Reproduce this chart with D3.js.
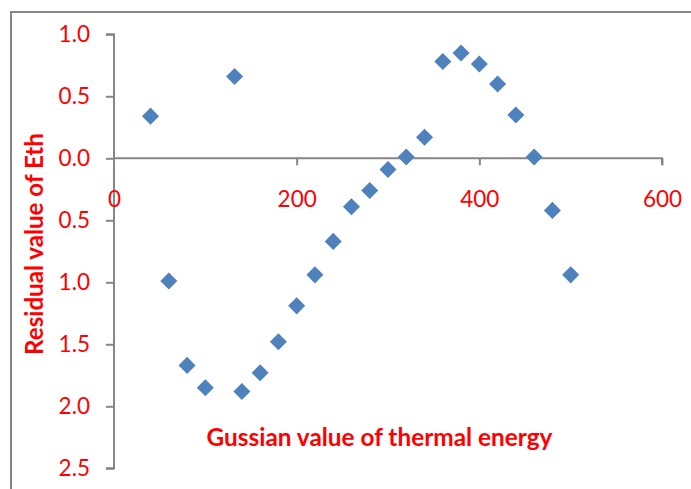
<!DOCTYPE html>
<html>
<head>
<meta charset="utf-8">
<script src="https://cdn.jsdelivr.net/npm/d3@7"></script>
<style>
  html, body { margin: 0; padding: 0; background: #fff; }
  svg { display: block; font-family: Lato, "Open Sans", sans-serif; }
</style>
</head>
<body>
<svg id="chart" width="691" height="489"></svg>
<script>
// ---- data ----
const energyValues = [40, 132, 60, 80, 100, 140, 160, 180, 200, 220, 240, 260, 280, 300, 320, 340, 360, 380, 400, 420, 440, 460, 480, 500];
const residualValues = [0.34, 0.66, -0.99, -1.67, -1.85, -1.88, -1.73, -1.48, -1.19, -0.94, -0.67, -0.39, -0.26, -0.09, 0.01, 0.17, 0.78, 0.85, 0.76, 0.60, 0.35, 0.01, -0.42, -0.94];
const xTickValues = [0, 200, 400, 600];
const yTickValues = [1.0, 0.5, 0.0, -0.5, -1.0, -1.5, -2.0, -2.5];
const xTitle = "Gussian value of thermal energy";
const yTitle = "Residual value of Eth";

const points = energyValues.map((x, i) => ({ x, y: residualValues[i] }));

// ---- layout ----
const W = 691, H = 489;
const plotLeft = 114, plotRight = 662;
const plotTop = 34.3, plotBottom = 468.3;
const axisColor = "#868686";
const red = "#FF0000";
const markerColor = "#4F81BD";

const svg = d3.select("#chart");

// outer chart border (only left and top are inside the picture)
svg.append("path")
  .attr("d", `M11,${H + 2} L11,12 L${W + 2},12`)
  .attr("fill", "none")
  .attr("stroke", axisColor)
  .attr("stroke-width", 2);

const x = d3.scaleLinear().domain([0, 600]).range([plotLeft, plotRight]);
const y = d3.scaleLinear().domain([-2.5, 1.0]).range([plotBottom, plotTop]);

// y axis
const yAxis = d3.axisLeft(y)
  .tickValues(yTickValues)
  .tickSize(8)
  .tickPadding(16)
  .tickFormat(d => d3.format(".1f")(Math.abs(d)));
const gy = svg.append("g").attr("transform", `translate(${plotLeft},0)`).call(yAxis);
gy.select(".domain").attr("stroke", axisColor).attr("stroke-width", 2)
  .attr("d", `M${-8},${plotTop}H0V${plotBottom}H${-8}`);
gy.selectAll(".tick line").attr("stroke", axisColor).attr("stroke-width", 2);
gy.selectAll(".tick text")
  .attr("fill", red)
  .style("font-size", "22.5px")
  .style("font-family", "Lato, 'Open Sans', sans-serif");

// x axis crossing at y = 0
const xAxis = d3.axisBottom(x)
  .tickValues(xTickValues)
  .tickSize(7)
  .tickPadding(26)
  .tickFormat(d3.format("d"));
const gx = svg.append("g").attr("transform", `translate(0,${y(0)})`).call(xAxis);
gx.select(".domain").attr("stroke", axisColor).attr("stroke-width", 2)
  .attr("d", `M${plotLeft},0H${plotRight}V7`);
gx.selectAll(".tick line").attr("stroke", axisColor).attr("stroke-width", 2)
  .filter(d => d === 0).remove();
gx.selectAll(".tick text")
  .attr("fill", red)
  .style("font-size", "22.5px")
  .style("font-family", "Lato, 'Open Sans', sans-serif");

// markers (diamonds)
const diamond = d3.symbol().type(d3.symbolDiamond2).size(185);
svg.append("g").selectAll("path")
  .data(points)
  .join("path")
  .attr("d", diamond)
  .attr("transform", d => `translate(${x(d.x)},${y(d.y)})`)
  .attr("fill", markerColor);

// axis titles
function fitText(sel, targetWidth, start) {
  sel.style("font-size", start + "px");
  const w = sel.node().getComputedTextLength();
  sel.style("font-size", (start * targetWidth / w).toFixed(2) + "px");
}

const xt = svg.append("text")
  .attr("x", 379.5)
  .attr("y", 446)
  .attr("text-anchor", "middle")
  .attr("fill", red)
  .attr("font-weight", "bold")
  .text(xTitle);
fitText(xt, 346, 21);

const yt = svg.append("text")
  .attr("transform", `translate(42.5,244) rotate(-90)`)
  .attr("text-anchor", "middle")
  .attr("fill", red)
  .attr("font-weight", "bold")
  .text(yTitle);
fitText(yt, 222, 21);
</script>
</body>
</html>
